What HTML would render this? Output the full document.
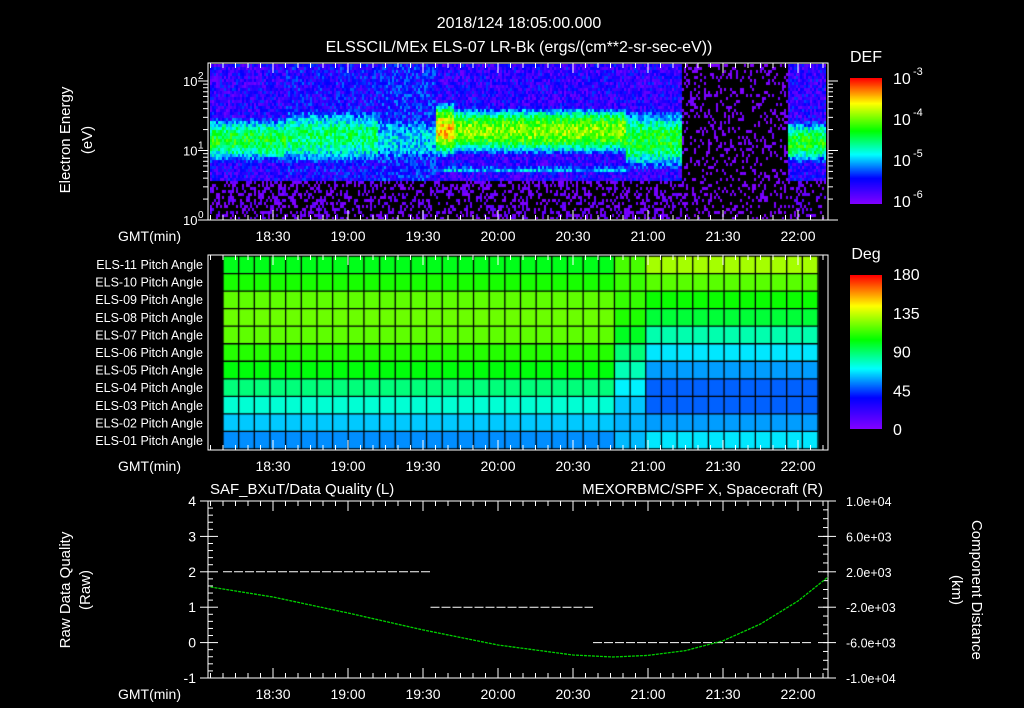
<!DOCTYPE html>
<html><head><meta charset="utf-8"><style>
html,body{margin:0;padding:0;background:#000;}
#wrap{position:relative;width:1024px;height:708px;overflow:hidden;background:#000;}
svg{position:absolute;left:0;top:0;}
text{font-family:"Liberation Sans",sans-serif;fill:#fff;}
canvas{position:absolute;}
</style></head><body>
<div id="wrap">
<canvas id="spec" width="616" height="155" style="left:210px;top:64px"></canvas>
<canvas id="pitch" width="620" height="194" style="left:209px;top:256px"></canvas>
<canvas id="cb1" width="32" height="126" style="left:850px;top:78px"></canvas>
<canvas id="cb2" width="32" height="154" style="left:850px;top:275px"></canvas>
<svg id="svg" width="1024" height="708"></svg>
</div>
<script>
// ---- data ----
const timeTickLabels=["18:30","19:00","19:30","20:00","20:30","21:00","21:30","22:00"];
const timeTickMinutes=[30,60,90,120,150,180,210,240];
// spectrogram segments (minutes since 18:00)
const segStart=[4,35,72,95,102,171,193,236];
const segCenter=[1.15,1.2,1.15,1.3,1.28,1.15,1.0,1.12];
const segWidth=[0.3,0.4,0.45,0.3,0.28,0.4,0.3,0.28];
const segPeak=[-4.3,-4.5,-4.9,-3.5,-3.9,-4.3,-7.0,-4.3];
const segBg=[-5.6,-5.5,-5.4,-5.6,-5.6,-5.6,-6.25,-5.6];
// pitch angles (deg), rows ELS-11..ELS-01
const pitchLabels=["ELS-11","ELS-10","ELS-09","ELS-08","ELS-07","ELS-06","ELS-05","ELS-04","ELS-03","ELS-02","ELS-01"];
const pitchBefore=[101,108,119,121,119,110,103,88,76,63,55];
const pitchAfter=[130,118,106,97,81,67,57,49,49,57,67];
const pitchTransition=[172];
// data quality
const dqStart=[10,93,158];
const dqEnd=[93,158,246];
const dqValue=[2,1,0];
// spacecraft X (km)
const posTime=[5,30,60,90,120,150,166,180,195,210,225,240,252];
const posValue=[282,-850,-2650,-4570,-6270,-7400,-7630,-7450,-6900,-5800,-3900,-1300,1410];

// ---- scales ----
const X0=208,X1=828,T0=4,T1=252;
const xT=t=>X0+(t-T0)*(X1-X0)/(T1-T0);
const yE=l=>220-l*69.5;
const yDQ=v=>678-(v+1)*35.4;
const yKm=v=>501+(1e4-v)/2e4*177;

function cmap(f){
  f=Math.max(0,Math.min(1,f));
  const s=[[0,128,0,255],[0.2,0,0,255],[0.39,0,255,255],[0.58,0,255,0],[0.8,255,255,0],[1,255,0,0]];
  for(let i=1;i<s.length;i++){if(f<=s[i][0]){const a=s[i-1],b=s[i],k=(f-a[0])/(b[0]-a[0]);
    return `rgb(${Math.round(a[1]+(b[1]-a[1])*k)},${Math.round(a[2]+(b[2]-a[2])*k)},${Math.round(a[3]+(b[3]-a[3])*k)})`;}}
  return 'rgb(255,0,0)';
}
function hash(a,b){let h=(a*374761393+b*668265263)|0;h=(h^(h>>>13))*1274126177|0;return ((h^(h>>>16))>>>0)/4294967296;}

// ---- spectrogram ----
(function(){
  const c=document.getElementById('spec').getContext('2d');
  const bw=2,bh=3;
  for(let i=0;i<616/bw;i++){
    const x=210+i*bw, t=T0+(x-X0)*(T1-T0)/(X1-X0);
    let s=0;for(let k=0;k<segStart.length;k++)if(t>=segStart[k])s=k;
    for(let j=0;j<155/bh;j++){
      const y=64+j*bh+1.5, l=(220-y)/69.5;
      let bg=l<0.55?Math.min(-6.15,segBg[s]):segBg[s];
      let v=Math.max(bg,segPeak[s]-1.1*Math.pow((l-segCenter[s])/segWidth[s],2));
      if(s>=3&&s<=4) v=Math.max(v,-5.0-1.5*Math.pow((l-0.72)/0.08,2));
      v+=(hash(i,j)-0.5)*0.7;
      if(v<-6.05)continue;
      c.fillStyle=cmap((v+6)/3);c.fillRect(i*bw,j*bh,bw,bh);
    }
  }
})();
// ---- pitch heatmap ----
(function(){
  const c=document.getElementById('pitch').getContext('2d');
  const ncol=38,cx0=223-209,cw=(818-223)/ncol,rh=193/11;
  for(let col=0;col<ncol;col++){
    const t=T0+(223+col*cw+cw/2-X0)*(T1-T0)/(X1-X0);
    for(let r=0;r<11;r++){
      let v=t<pitchTransition[0]-4?pitchBefore[r]:(t>pitchTransition[0]+4?pitchAfter[r]:(pitchBefore[r]+pitchAfter[r])/2);
      c.fillStyle=cmap(v/180);
      c.fillRect(cx0+col*cw,r*rh,cw+0.5,rh+0.5);
    }
  }
  c.strokeStyle='#000';c.lineWidth=1.3;
  for(let col=0;col<=ncol;col++){c.beginPath();c.moveTo(cx0+col*cw,0);c.lineTo(cx0+col*cw,194);c.stroke();}
  for(let r=0;r<=11;r++){c.beginPath();c.moveTo(cx0,r*rh);c.lineTo(cx0+ncol*cw,r*rh);c.stroke();}
})();
// ---- colorbars ----
['cb1','cb2'].forEach(id=>{const cv=document.getElementById(id),c=cv.getContext('2d');
  for(let y=0;y<cv.height;y++){c.fillStyle=cmap(1-y/(cv.height-1));c.fillRect(0,y,32,1);}});

// ---- svg axes ----
const svg=document.getElementById('svg');const NS='http://www.w3.org/2000/svg';
function el(tag,attrs,txt){const e=document.createElementNS(NS,tag);for(const k in attrs)e.setAttribute(k,attrs[k]);if(txt!==undefined)e.textContent=txt;svg.appendChild(e);return e;}
function line(x1,y1,x2,y2,col){return el('line',{x1,y1,x2,y2,stroke:col||'#fff','stroke-width':1});}
function txt(x,y,s,size,anchor,col,name,rot){const e=el('text',{x,y,'font-size':size,'text-anchor':anchor||'start',fill:col||'#fff'},s);
  if(rot)e.setAttribute('transform',`rotate(${rot} ${x} ${y})`);
  
  return e;}

txt(519,28,"2018/124 18:05:00.000",16,'middle','#fff','main-title');
txt(519,52,"ELSSCIL/MEx ELS-07 LR-Bk  (ergs/(cm**2-sr-sec-eV))",16,'middle','#fff','spectrogram-title');

const panels=[[63,220],[255,450],[501,678]];
panels.forEach((p,pi)=>{
  const r=el('rect',{x:X0,y:p[0],width:X1-X0,height:p[1]-p[0],fill:'none',stroke:'#fff','stroke-width':1});
  
  
  for(let t=5;t<=250;t+=5){const x=xT(t),L=(t%30===0)?10:5;line(x,p[0],x,p[0]+L);line(x,p[1],x,p[1]-L);}
  timeTickLabels.forEach((s,i)=>txt(xT(timeTickMinutes[i]),p[1]+21,s,14,'middle','#fff','time-tick-label'));
  txt(118,p[1]+21,"GMT(min)",14,'start','#fff','time-axis-title');
});
for(let d=0;d<=2;d++){for(let m=1;m<10;m++){const l=d+Math.log10(m);const y=yE(l);if(y<63)continue;const L=m===1?10:5;line(X0-L,y,X0,y);line(X1,y,X1+L,y);}
  txt(183,yE(d)+5,"10",13,'start','#fff','energy-tick-label');txt(198,yE(d)-2,String(d),10,'start','#fff','energy-tick-exp');}
txt(70,140,"Electron Energy",15,'middle','#fff','y-axis-title-energy',-90);
txt(92,140,"(eV)",15,'middle','#fff','y-axis-unit-energy',-90);
txt(866,62,"DEF",16,'middle','#fff','def-colorbar-title');
['-3','-4','-5','-6'].forEach((e,i)=>{const y=84+i*41;txt(893,y,"10",16,'start','#fff','def-tick-label');txt(913,y-9,e,11,'start','#fff','def-tick-exp');});
pitchLabels.forEach((s,i)=>txt(203,269+i*17.6,s+" Pitch Angle",12.5,'end','#fff','pitch-row-label'));
txt(866,259,"Deg",16,'middle','#fff','deg-colorbar-title');
[180,135,90,45,0].forEach((v,i)=>txt(893,280+i*38.8,String(v),16,'start','#fff','deg-tick-label'));
for(let k=-5;k<=20;k++){const v=k/5,y=yDQ(v),M=(k%5===0);line(X0,y,X0+(M?10:5),y);if(M){line(X0-8,y,X0,y);txt(196,y+5,String(v),14,'end','#fff','dq-tick-label');}}
[1e4,6e3,2e3,-2e3,-6e3,-1e4].forEach(v=>{const y=yKm(v);line(X1,y,X1+8,y);line(X1-10,y,X1,y);
  const s=(v<0?'-':'')+(Math.abs(v)/Math.pow(10,Math.floor(Math.log10(Math.abs(v))))).toFixed(1)+'e+0'+Math.floor(Math.log10(Math.abs(v)));
  txt(846,y+5,s,12.5,'start','#fff','km-tick-label');});
for(let v=-1e4;v<=1e4;v+=1e3){const y=yKm(v);line(X1-5,y,X1,y);}
txt(210,494,"SAF_BXuT/Data Quality (L)",15,'start','#fff','dq-title');
txt(823,494,"MEXORBMC/SPF X, Spacecraft (R)",15,'end','#00e000','position-title');
txt(70,590,"Raw Data Quality",15,'middle','#fff','y-axis-title-dq',-90);
txt(90,590,"(Raw)",15,'middle','#fff','y-axis-unit-dq',-90);
txt(972,590,"Component Distance",15,'middle','#fff','y-axis-title-km',90);
txt(952,590,"(km)",15,'middle','#fff','y-axis-unit-km',90);
dqValue.forEach((v,i)=>{const l=el('line',{x1:xT(dqStart[i]),x2:xT(dqEnd[i]),y1:yDQ(v),y2:yDQ(v),stroke:'#fff','stroke-width':1,'stroke-dasharray':'9 2'});
  
  });
const pts=posTime.map((t,i)=>xT(t).toFixed(1)+','+yKm(posValue[i]).toFixed(1)).join(' ');
const pl=el('polyline',{points:pts,fill:'none',stroke:'#00d000','stroke-width':1.3,'stroke-dasharray':'3 1'});


</script>
</body></html>
